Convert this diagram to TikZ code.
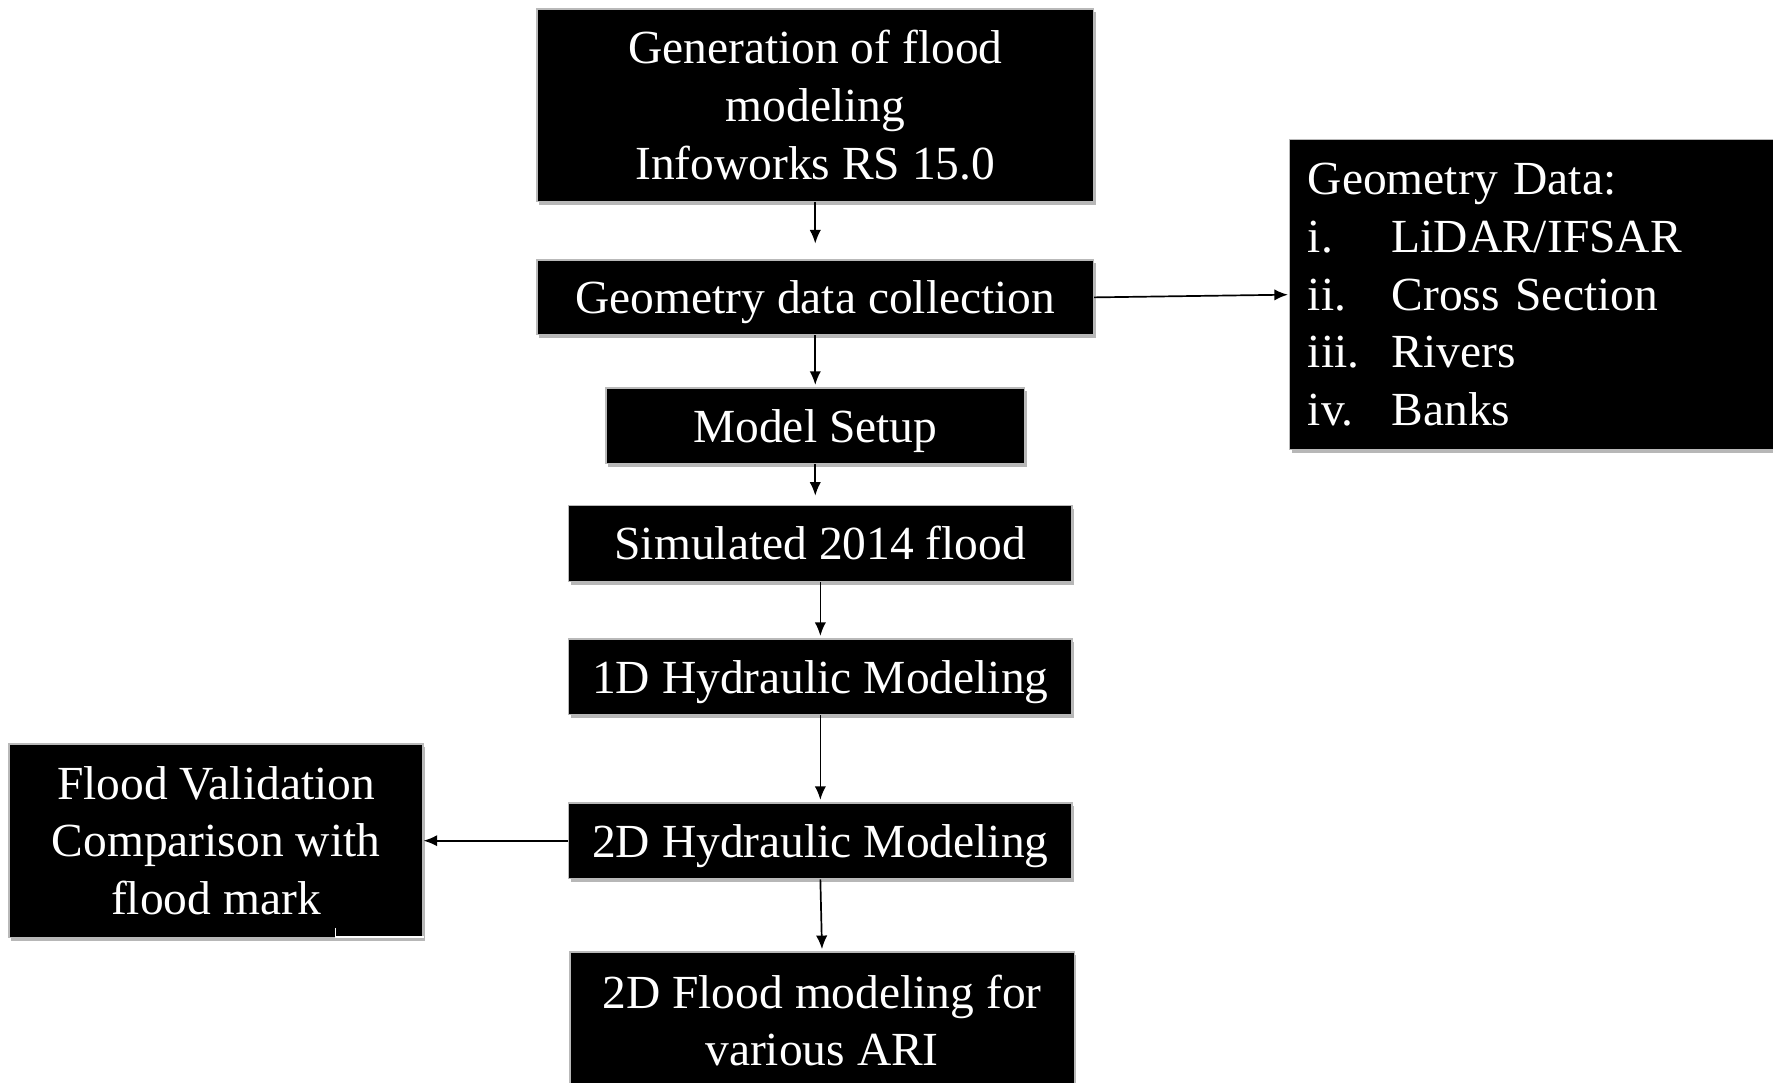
\documentclass[tikz,border=0pt]{standalone}
\usepackage{fontspec}
\setmainfont{Liberation Serif}
\usetikzlibrary{arrows.meta,shadows,calc}
\begin{document}
\begin{tikzpicture}[x=1pt,y=-1pt,
  box/.style={draw=gray!55, line width=1.2pt, fill=black, text=white,
    font=\fontsize{42}{51}\selectfont, align=center, inner sep=0pt,
    drop shadow={shadow xshift=2pt, shadow yshift=-3pt, fill=gray!80, opacity=0.7}},
  oneline/.style={text height=33pt, text depth=4pt},
  conn/.style={line width=1.5pt, -{Latex[length=12pt,width=10pt]}}
]
\useasboundingbox (0,0) rectangle (1568,957);

\node[box, minimum width=492pt, minimum height=170pt] (gen) at (721,93)
  {Generation of flood\\modeling\\Infoworks RS 15.0};
\node[box, oneline, minimum width=492pt, minimum height=66pt] (geo) at (721,263)
  {Geometry data collection};
\node[box, oneline, minimum width=370pt, minimum height=67pt] (setup) at (721,376.5)
  {Model Setup};
\node[box, oneline, minimum width=445pt, minimum height=67pt] (sim) at (725.5,480.5)
  {Simulated 2014 flood};
\node[box, oneline, minimum width=445pt, minimum height=67pt] (oned) at (725.5,598.5)
  {1D Hydraulic Modeling};
\node[box, oneline, minimum width=445pt, minimum height=67pt] (twod) at (725.5,743.5)
  {2D Hydraulic Modeling};
\node[box, minimum width=446pt, minimum height=121pt] (ari) at (727,902.5)
  {2D Flood modeling for\\various ARI};
\node[box, minimum width=366pt, minimum height=171pt] (val) at (191,743.5)
  {Flood Validation\\Comparison with\\flood mark};
\node[box, anchor=north west, minimum width=440pt, minimum height=274pt,
  text width=408pt, align=left, inner xsep=16pt] (gdata) at (1140,123)
  {Geometry Data:\\
   \makebox[74pt][l]{i.}LiDAR/IFSAR\\
   \makebox[74pt][l]{ii.}Cross Section\\
   \makebox[74pt][l]{iii.}Rivers\\
   \makebox[74pt][l]{iv.}Banks};

\draw[conn, shorten >=14pt] (gen.south) -- (geo.north);
\draw[conn, shorten >=2pt] (geo.south) -- (setup.north);
\draw[conn, shorten >=8pt] (setup.south) -- (setup.south |- sim.north);
\draw[conn, shorten >=2pt] (sim.south) -- (oned.north);
\draw[conn, shorten >=2pt] (oned.south) -- (twod.north);
\draw[conn, shorten >=2pt] (twod.south) -- (ari.north);
\draw[conn, shorten >=1pt] (geo.east) -- (gdata.west);
\draw[conn] (twod.west) -- (val.east);

\draw[white, line width=1.5pt]
  ([xshift=-78pt,yshift=9pt]val.south east) -- ([xshift=-78pt,yshift=1pt]val.south east)
  -- ([yshift=1pt]val.south east);
\end{tikzpicture}
\end{document}
